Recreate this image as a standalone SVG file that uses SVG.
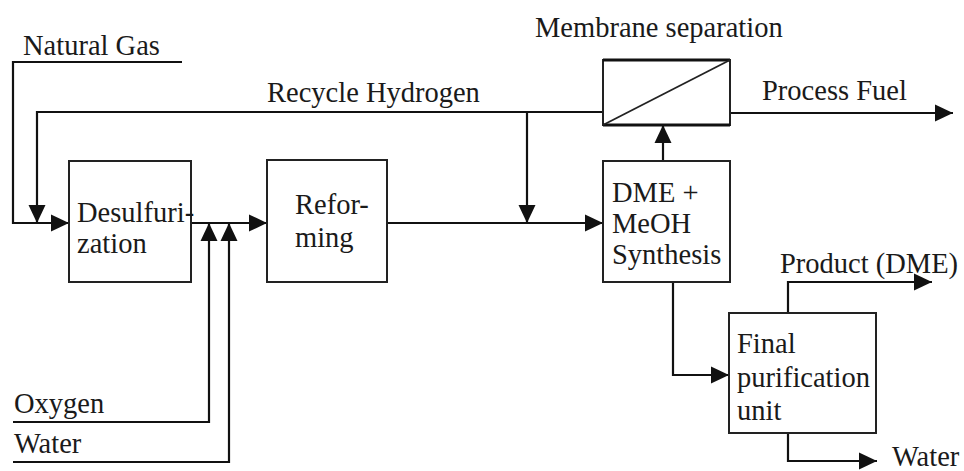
<svg xmlns="http://www.w3.org/2000/svg" width="964" height="471" viewBox="0 0 964 471">
<style>
text{font-family:"Liberation Serif","DejaVu Serif","Times New Roman",serif;font-size:28.5px;fill:#1a1a1a}
.box{fill:#fff;stroke:#222;stroke-width:2}
.c{fill:none;stroke:#111;stroke-width:2.2}
</style>
<defs>
<marker id="ah" viewBox="0 0 18 18" refX="18" refY="9" markerWidth="18" markerHeight="18" markerUnits="userSpaceOnUse" orient="auto">
<path d="M0,0.5 L18,9 L0,17.5 z" fill="#111"/>
</marker>
</defs>
<rect width="964" height="471" fill="#fff"/>
<g id="connectors">
<path class="c" d="M182,62 H13 V223 H69" marker-end="url(#ah)"/>
<path class="c" d="M603,112 H37 V223" marker-end="url(#ah)"/>
<path class="c" d="M527,112 V223" marker-end="url(#ah)"/>
<path class="c" d="M191,223 H267" marker-end="url(#ah)"/>
<path class="c" d="M13,422 H209 V223" marker-end="url(#ah)"/>
<path class="c" d="M13,462 H229 V223" marker-end="url(#ah)"/>
<path class="c" d="M387,223 H603" marker-end="url(#ah)"/>
<path class="c" d="M663,161 V125" marker-end="url(#ah)"/>
<path class="c" d="M730,113 H953" marker-end="url(#ah)"/>
<path class="c" d="M673,282 V375 H729" marker-end="url(#ah)"/>
<path class="c" d="M788,313 V282 H932" marker-end="url(#ah)"/>
<path class="c" d="M788,433 V461 H877" marker-end="url(#ah)"/>
</g>
<g id="labels">
<text x="23" y="55">Natural Gas</text>
<text x="267" y="102">Recycle Hydrogen</text>
<text x="535" y="37">Membrane separation</text>
<text x="762" y="100">Process Fuel</text>
<text x="14" y="413">Oxygen</text>
<text x="14" y="453">Water</text>
<text x="780" y="273">Product (DME)</text>
<text x="892" y="466">Water</text>
</g>
<g id="desulfurization">
<rect class="box" x="69" y="161" width="122" height="121"/>
<text x="77" y="222">Desulfuri-</text>
<text x="77" y="253">zation</text>
</g>
<g id="reforming">
<rect class="box" x="267" y="160" width="120" height="122"/>
<text x="295" y="214">Refor-</text>
<text x="295" y="247">ming</text>
</g>
<g id="membrane">
<rect class="box" x="603" y="60" width="127" height="65"/>
<path d="M603,60 H730 M603,125 H730" stroke="#111" stroke-width="3"/>
<path d="M603,125 L730,60" stroke="#222" stroke-width="1.8"/>
</g>
<g id="dme-synthesis">
<rect class="box" x="603" y="161" width="127" height="121"/>
<text x="612" y="202">DME +</text>
<text x="612" y="233">MeOH</text>
<text x="612" y="264">Synthesis</text>
</g>
<g id="final-purification">
<rect class="box" x="729" y="313" width="147" height="120"/>
<text x="737" y="353">Final</text>
<text x="737" y="387">purification</text>
<text x="737" y="420">unit</text>
</g>
</svg>
